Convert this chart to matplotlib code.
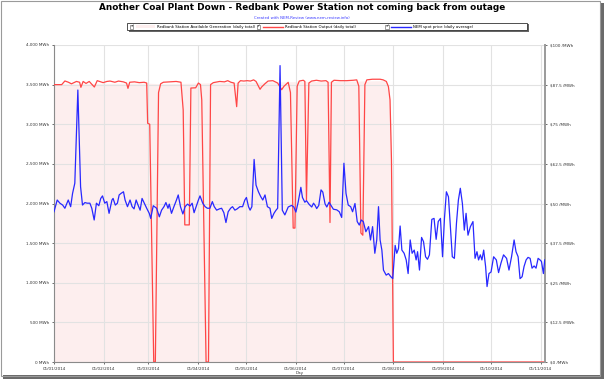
import matplotlib
matplotlib.use("Agg")
import matplotlib.pyplot as plt
import matplotlib.dates as mdates
from matplotlib.patches import Rectangle
from matplotlib.lines import Line2D
from matplotlib.ticker import FuncFormatter, MultipleLocator
import pandas as pd

# data (day = days since 01/01/2014)
output_days = [0, 4.8, 6.8, 9, 10.9, 14, 16, 16.8, 18.2, 20, 22, 25.2, 27, 30.7, 33, 35, 38,
               40.3, 43.3, 45.3, 46.2, 47.3, 50.3, 53.3, 56.3, 57.9, 58.5, 59.8, 62.3, 63.3, 65.3,
               66.6, 68.3, 72.3, 76.3, 79.3, 80.7, 81.7, 84.5, 85.5, 88.5, 90.2, 91.5, 92.3, 95.0,
               96.5, 97.8, 99.5, 103.5, 106.5, 108.5, 110.5, 112.5, 114.1, 115.0, 116.5, 118.5,
               120.7, 122.7, 124.7, 126.2, 128.7, 129.7, 131.7, 133.7, 136.7, 139.7, 142.2, 143.7,
               146.3, 147.7, 149.4, 150.5, 151.9, 153.2, 155.7, 156.7, 157.7, 159.2, 160.9, 163.9,
               166.9, 169.9, 171.2, 172.4, 173.3, 174.9, 178.9, 182.9, 186.9, 189.1, 190.4, 191.7,
               192.9, 194.2, 195.4, 198.9, 203.7, 205.6, 207.6, 208.9, 209.9, 210.8, 212.0, 306.5]
output_mwh = [3500, 3500, 3546, 3530, 3510, 3540, 3530, 3466, 3540, 3515, 3540, 3470, 3550, 3525,
              3540, 3545, 3530, 3545, 3535, 3520, 3453, 3530, 3535, 3525, 3530, 3520, 3012, 3000,
              0, 0, 3400, 3510, 3530, 3535, 3540, 3530, 3180, 1730, 1730, 3457, 3460, 3520, 3500,
              3306, 0, 0, 3500, 3525, 3540, 3535, 3550, 3530, 3520, 3222, 3520, 3550, 3545, 3550,
              3545, 3560, 3540, 3441, 3470, 3510, 3545, 3550, 3520, 3436, 3480, 3529, 3400, 1690,
              1690, 3480, 3545, 3555, 3540, 2044, 3520, 3545, 3555, 3545, 3550, 3530, 1760, 3530,
              3555, 3550, 3550, 3555, 3560, 3480, 1628, 1600, 3500, 3560, 3568, 3568, 3560, 3540,
              3474, 3306, 2549, 0, 0]

avail_days = [0, 57.9, 66.6, 120, 190, 205.6, 207.6, 208.9, 209.9, 210.8, 212.0, 306.5]
avail_mwh = [3510, 3520, 3510, 3530, 3545, 3550, 3530, 3474, 3306, 2549, 0, 0]

price_days = [0, 2, 3.7, 5.4, 6.8, 8.9, 10.4, 11.6, 13, 14.9, 16.6, 17.8, 19.3, 20.7, 22.4, 23.6,
              25.1, 26.5, 28, 29.2, 30.3, 31.7, 33, 34.4, 36.2, 36.9, 38.3, 39.6, 40.7, 41.9, 43.4,
              44.4, 45.9, 47.5, 48.8, 50.0, 51.3, 52.5, 53.8, 55.0, 56.4, 57.9, 59.5, 60.4, 62.0,
              64.1, 65.8, 67.2, 68.7, 69.9, 71.2, 72.0, 73.4, 74.9, 76.5, 77.6, 79.0, 80.5, 81.9,
              83.4, 85.0, 86.3, 87.5, 88.8, 90.2, 91.2, 92.9, 94.4, 95.8, 97.4, 98.9, 100.1, 101.6,
              103.3, 104.7, 106.1, 107.4, 108.8, 110.3, 111.5, 113.0, 114.4, 116.1, 117.8, 119.2,
              120.2, 121.5, 122.5, 123.6, 125.0, 126.2, 127.7, 129.1, 130.4, 131.8, 133.3, 134.9,
              136.0, 137.4, 138.7, 139.7, 141.2, 142.6, 144.2, 146.3, 148.4, 149.8, 151.1, 152.5,
              154.2, 155.2, 156.7, 157.7, 159.4, 161.0, 162.1, 163.1, 164.1, 165.4, 166.8, 167.9,
              169.3, 170.4, 171.8, 174.5, 176.6, 178.2, 179.7, 181.1, 182.4, 183.8, 185.3, 186.5,
              188.0, 189.4, 190.7, 191.9, 193.2, 194.8, 196.5, 197.7, 199.0, 200.4, 201.6, 202.7,
              203.7, 204.8, 205.8, 207.5, 208.9, 210.4, 211.6, 213.1, 214.1, 215.2, 216.2, 217.3,
              218.7, 220.0, 221.2, 222.5, 223.7, 225.0, 226.2, 227.1, 228.3, 229.6, 230.8, 232.1,
              233.3, 234.5, 236.0, 237.4, 238.7, 240.0, 241.4, 242.7, 243.9, 245.1, 246.4, 247.6,
              248.8, 250.1, 251.4, 252.6, 253.8, 255.1, 256.3, 257.4, 258.6, 260.1, 261.7, 263.0,
              264.2, 265.2, 266.3, 267.3, 268.4, 269.6, 270.5, 271.7, 273.0, 274.6, 276.3, 277.7,
              279.2, 280.8, 282.7, 284.2, 285.8, 287.4, 288.6, 289.9, 291.1, 292.4, 293.6, 294.9,
              296.1, 297.4, 298.6, 299.9, 301.1, 302.4, 303.6, 304.5, 305.7, 306.5]
price = [47.4, 51.1, 50.1, 49.5, 48.5, 51.1, 49.0, 53.2, 56.4, 85.8, 55.3, 49.5, 50.3, 50.1, 50.1,
         48.5, 44.8, 50.1, 49.3, 51.6, 52.4, 50.1, 50.6, 46.9, 51.1, 51.6, 49.5, 50.1, 52.7, 53.2,
         53.7, 51.1, 49.0, 51.1, 49.0, 48.3, 51.1, 49.5, 47.9, 51.6, 50.1, 48.5, 46.9, 45.3, 49.3,
         48.5, 45.8, 47.9, 49.0, 50.3, 48.5, 49.8, 46.9, 49.0, 51.1, 52.7, 49.0, 46.7, 49.0, 49.8,
         49.2, 50.1, 47.1, 49.0, 51.1, 52.4, 50.1, 49.0, 48.5, 48.5, 50.6, 49.0, 47.9, 48.3, 48.5,
         47.1, 44.0, 47.4, 48.5, 49.0, 47.9, 48.3, 49.0, 49.0, 51.1, 51.9, 49.0, 47.9, 49.0, 63.9,
         55.8, 53.7, 52.2, 51.1, 52.7, 49.0, 48.5, 45.3, 46.9, 47.9, 48.5, 93.5, 47.9, 46.4, 48.9,
         49.4, 48.9, 47.3, 50.4, 55.1, 51.9, 50.4, 50.9, 49.7, 48.9, 50.1, 49.4, 48.4, 49.4, 54.3,
         53.6, 49.9, 48.9, 50.4, 48.2, 48.0, 47.4, 45.6, 62.7, 53.2, 49.5, 49.0, 47.4, 50.0, 44.3,
         43.2, 44.8, 44.3, 41.1, 42.7, 38.5, 42.7, 34.3, 38.5, 49.0, 38.5, 35.3, 29.0, 27.4, 27.9,
         26.9, 26.3, 36.8, 34.3, 35.8, 42.9, 35.3, 34.3, 32.2, 27.9, 38.5, 34.3, 35.3, 32.2, 34.8,
         29.0, 39.3, 38.0, 33.2, 32.4, 33.8, 45.0, 45.3, 38.7, 44.3, 45.3, 33.2, 45.3, 53.7, 52.1,
         42.7, 33.2, 32.7, 43.8, 51.1, 54.8, 50.0, 41.6, 46.9, 40.0, 42.7, 44.3, 32.7, 34.8, 32.2,
         33.8, 32.2, 35.3, 30.1, 23.8, 27.9, 28.4, 33.2, 32.2, 28.2, 31.2, 33.8, 32.7, 29.0, 33.2,
         38.5, 34.8, 33.2, 26.3, 26.9, 30.1, 32.2, 33.0, 32.7, 29.6, 30.3, 29.6, 32.7, 32.2, 31.7,
         27.9, 32.2]

start = pd.Timestamp("2014-01-01")
def to_dates(days):
    return start + pd.to_timedelta(days, unit="D")

W, H = 604, 379
def fx(x):
    return x / W
def fy(y):
    return 1 - y / H

fig = plt.figure(figsize=(W / 100, H / 100), dpi=100)

# outer frame and shadow
fig.add_artist(Rectangle((fx(3), fy(379)), fx(600), 4 / H, color="#6a6a6a", lw=0))
fig.add_artist(Rectangle((fx(600), fy(379)), 4 / W, fy(3), color="#6a6a6a", lw=0))
fig.add_artist(Rectangle((fx(0.5), fy(375.5)), fx(599.5), 375 / H, fill=False, ec="#9a9a9a", lw=0.8))

ax = fig.add_axes([fx(54), fy(362), fx(545) - fx(54), fy(45) - fy(362)])
ax2 = ax.twinx()

ax.fill_between(to_dates(avail_days), avail_mwh, 0, color="#fdeeee", lw=0, zorder=0.2)
ax.plot(to_dates(output_days), output_mwh, color="#ff4646", lw=0.9, zorder=3)
ax2.plot(to_dates(price_days), price, color="#2828ff", lw=0.9, zorder=3)

ax.set_xlim(start, start + pd.Timedelta(days=306.7))
ax.set_ylim(0, 4000)
ax2.set_ylim(0, 100)

ax.xaxis.set_major_locator(mdates.MonthLocator())
ax.xaxis.set_major_formatter(mdates.DateFormatter("%d/%m/%Y"))
ax.yaxis.set_major_locator(MultipleLocator(500))
ax.yaxis.set_major_formatter(FuncFormatter(lambda v, p: "{:,.0f} MWh".format(v)))
ax2.yaxis.set_major_locator(MultipleLocator(12.5))
ax2.yaxis.set_major_formatter(FuncFormatter(lambda v, p: "${:g} /MWh".format(v)))

ax.grid(True, color="#e2e2e2", lw=0.8)
for a in (ax, ax2):
    a.tick_params(labelsize=3, colors="#333333", length=1.5, width=0.5, pad=2)
    for s in a.spines.values():
        s.set_visible(False)
ax.spines["left"].set_visible(True)
ax.spines["left"].set_color("#8a8a8a")
ax.spines["bottom"].set_visible(True)
ax.spines["bottom"].set_color("#8a8a8a")
ax2.spines["right"].set_visible(True)
ax2.spines["right"].set_color("#9a9a9a")
ax2.spines["right"].set_linewidth(1.4)

fig.text(fx(300), fy(373), "Day", fontsize=3, ha="center", va="center", color="#333333")

fig.text(fx(302), fy(8), "Another Coal Plant Down - Redbank Power Station not coming back from outage",
         fontsize=6.4, fontweight="bold", ha="center", va="center")
fig.text(fx(302), fy(18), "Created with NEM-Review (www.nem-review.info)",
         fontsize=2.8, color="#3a3aff", ha="center", va="center")

# legend box
fig.add_artist(Rectangle((fx(128.5), fy(31.5)), fx(400), 7.5 / H, color="#666666", lw=0))
fig.add_artist(Rectangle((fx(127), fy(30.3)), fx(400), 7 / H, fc="white", ec="#333333", lw=0.6))
for cx in (131.7, 258.3, 386.7):
    fig.add_artist(Rectangle((fx(cx - 1.8), fy(28.5)), 3.6 / W, 3.6 / H, fc="white", ec="#555555", lw=0.4))
    fig.text(fx(cx), fy(26.8), "\u2713", fontsize=3, ha="center", va="center")
fig.add_artist(Rectangle((fx(136), fy(28.2)), 19 / W, 3 / H, color="#fdeeee", lw=0))
fig.add_artist(Line2D([fx(262.7), fx(283.3)], [fy(26.7), fy(26.7)], color="#ff4646", lw=1))
fig.add_artist(Line2D([fx(390.7), fx(410.7)], [fy(26.7), fy(26.7)], color="#2828ff", lw=1))
fig.text(fx(156.7), fy(26.7), "Redbank Station Available Generation (daily total)", fontsize=2.75, va="center")
fig.text(fx(285), fy(26.7), "Redbank Station Output (daily total)", fontsize=2.75, va="center")
fig.text(fx(413), fy(26.7), "NEM spot price (daily average)", fontsize=2.75, va="center")

fig.savefig("out.png", dpi=100)
